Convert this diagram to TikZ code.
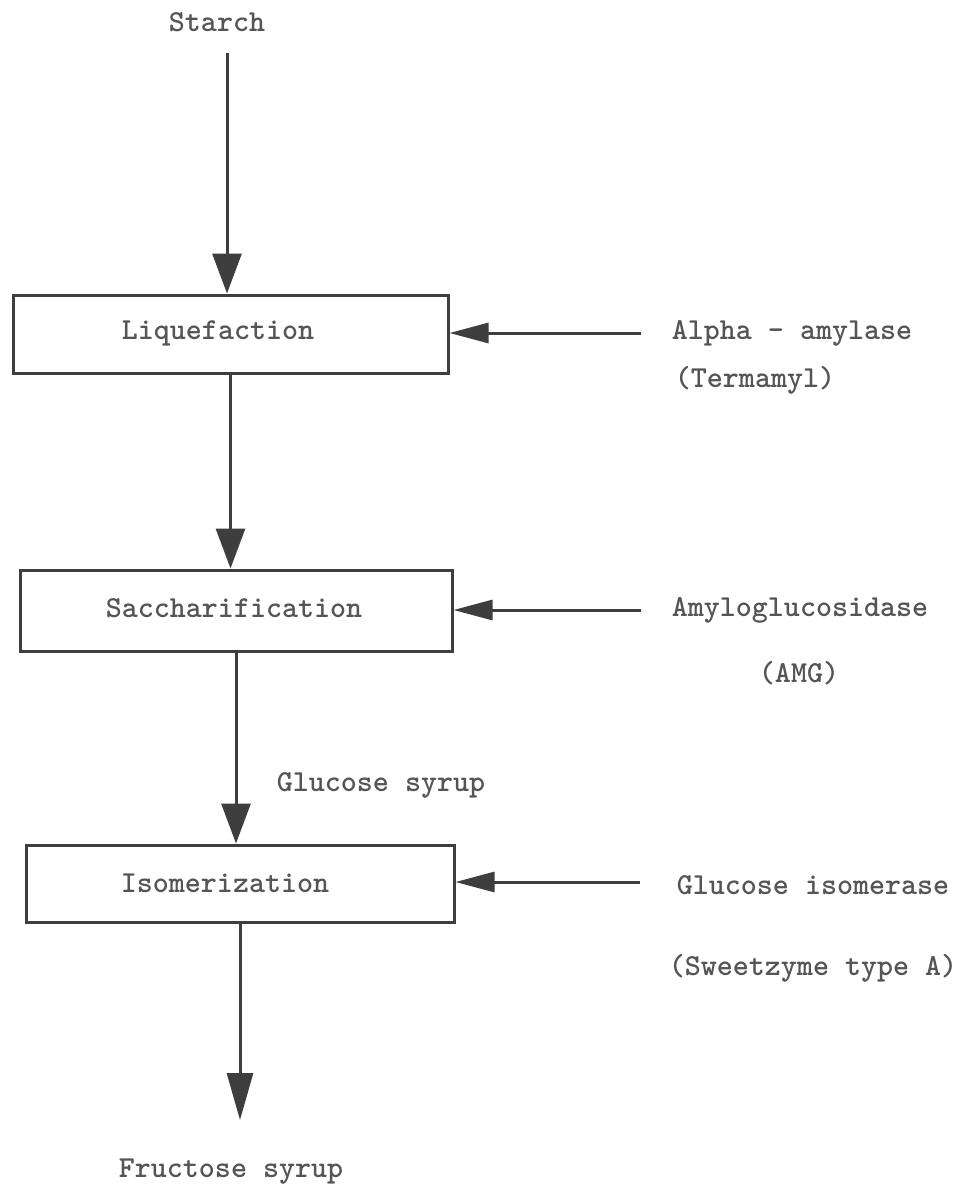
\documentclass[tikz,border=0pt]{standalone}
\usepackage{fontspec}
\usetikzlibrary{arrows.meta,calc}
\definecolor{ink}{RGB}{62,62,62}
\definecolor{txt}{RGB}{85,85,85}
\begin{document}
\begin{tikzpicture}[x=1pt,y=-1pt,
  every node/.style={font=\ttfamily\bfseries\fontsize{30.5}{36}\selectfont, text=txt, inner sep=0pt},
  stepbox/.style={draw=ink, line width=3pt, rectangle, minimum width=#1},
  varrow/.style={draw=ink, line width=3pt, -{Triangle[length=40pt,width=29pt]}},
  harrow/.style={draw=ink, line width=3pt, -{Triangle[length=39pt,width=20pt]}},
  lbl/.style={}]
\useasboundingbox[fill=white] (0,0) rectangle (969,1188);

% process boxes
\node[stepbox=435pt, minimum height=78pt] (liq) at (230.5,334) {};
\node[stepbox=432pt, minimum height=81pt] (sac) at (236,610.5) {};
\node[stepbox=428pt, minimum height=77pt] (iso) at (240,883.5) {};
\node[lbl] (liqt) at (218,333) {Liquefaction};
\node[lbl] (sact) at (234,608) {Saccharification};
\node[lbl] (isot) at (225,883) {Isomerization};

% texts
\node[lbl] (starch) at (217,22) {Starch};
\node[lbl] (alpha) at (792,333) {Alpha - amylase};
\node[lbl] (term) at (755,380) {(Termamyl)};
\node[lbl] (amg1) at (800,610) {Amyloglucosidase};
\node[lbl] (amg2) at (799,673) {(AMG)};
\node[lbl] (gsyr) at (381,785) {Glucose syrup};
\node[lbl] (gi1) at (813,885) {Glucose isomerase};
\node[lbl] (gi2) at (813,968) {(Sweetzyme type A)};
\node[lbl] (fsyr) at (231,1172) {Fructose syrup};

% free ends
\coordinate (s0) at (227,53);
\coordinate (f0) at (240,1120);
\coordinate (e1) at (641,333);
\coordinate (e2) at (641,610);
\coordinate (e3) at (640,882);

% vertical flow
\draw[varrow] (s0) -- (s0 |- liq.north);
\draw[varrow] (liq.south) -- (liq.south |- sac.north);
\draw[varrow] (sac.south) -- (sac.south |- iso.north);
\draw[-{Triangle[length=47pt,width=26pt]}, draw=ink, line width=3pt] (iso.south) -- (f0);

% enzyme inputs
\draw[harrow] (e1) -- (e1 -| liq.east);
\draw[harrow] (e2) -- (e2 -| sac.east);
\draw[harrow] (e3) -- (e3 -| iso.east);
\end{tikzpicture}
\end{document}
